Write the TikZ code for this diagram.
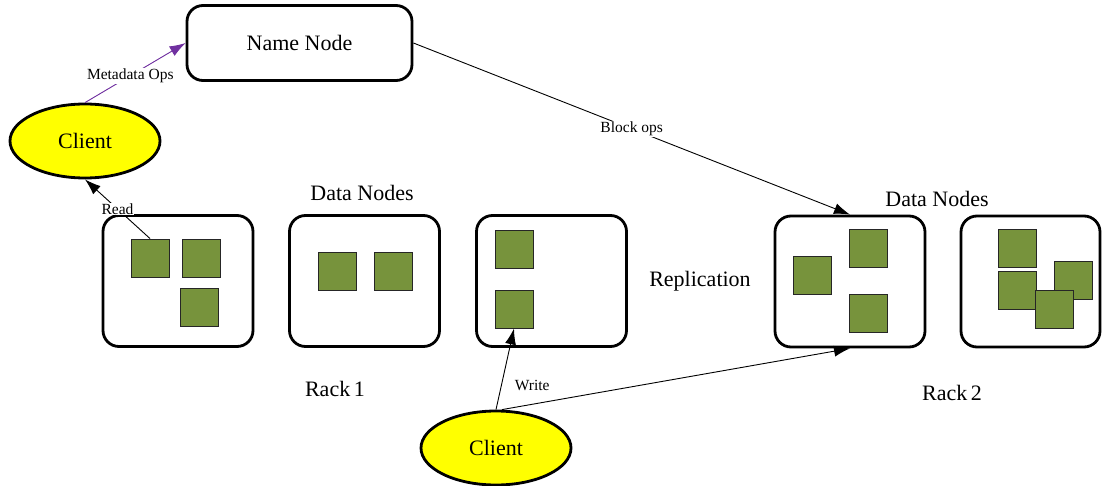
\documentclass[tikz,border=0pt]{standalone}
\usepackage{fontspec}
\setmainfont{Liberation Serif}
\usetikzlibrary{shapes.geometric,arrows.meta}
\definecolor{blockgreen}{HTML}{77933C}
\definecolor{metapurple}{HTML}{7030A0}
\definecolor{clientyellow}{HTML}{FFFF00}
\begin{document}
\begin{tikzpicture}[x=1pt,y=-1pt,
  bigtext/.style={font=\fontsize{22}{26}\selectfont, inner sep=0pt},
  smalltext/.style={font=\fontsize{15.5}{18}\selectfont, inner sep=1pt},
  rackbox/.style={draw, line width=2.8pt, rounded corners=16pt, minimum width=150pt, minimum height=131pt, inner sep=0pt},
  namebox/.style={draw, line width=2.8pt, rounded corners=16pt, minimum width=225pt, minimum height=75pt, inner sep=0pt, font=\fontsize{22}{26}\selectfont},
  clientnode/.style={draw, ellipse, line width=2.8pt, fill=clientyellow, minimum width=150pt, minimum height=74pt, inner sep=0pt, font=\fontsize{22}{26}\selectfont},
  blk/.style={draw=black!85, line width=0.9pt, fill=blockgreen, minimum size=38pt, inner sep=0pt},
  conn/.style={line width=0.9pt, -{Latex[length=16pt,width=11pt]}},
  lbl/.style={smalltext, fill=white}
]
\useasboundingbox (0,0) rectangle (1102,486);

% name node and clients
\node[namebox] (nn) at (299.5,43) {Name Node};
\node[clientnode] (c1) at (85,141) {Client};
\node[clientnode] (c2) at (496,448) {Client};

% rack 1 data nodes
\node[rackbox] (d1) at (178,281) {};
\node[rackbox] (d2) at (364.5,281) {};
\node[rackbox] (d3) at (551.5,281) {};
% rack 2 data nodes
\node[rackbox] (d4) at (850,281.5) {};
\node[rackbox, minimum width=139pt] (d5) at (1030.5,281.5) {};

% blocks
\node[blk] (b1a) at (150,258) {};
\node[blk] (b1b) at (201,258) {};
\node[blk] (b1c) at (199.5,307) {};
\node[blk] (b2a) at (337,271.5) {};
\node[blk] (b2b) at (393,271.5) {};
\node[blk] (b3a) at (514,249) {};
\node[blk] (b3b) at (514,309) {};
\node[blk] (b4a) at (812.5,275.5) {};
\node[blk] (b4b) at (868,248.5) {};
\node[blk] (b4c) at (868,313.5) {};
\node[blk] (b5a) at (1017.5,248.5) {};
\node[blk] (b5b) at (1017.5,290.5) {};
\node[blk] (b5c) at (1073.5,280.5) {};
\node[blk] (b5d) at (1054.5,309.5) {};

% texts
\node[bigtext] (t1) at (362,193) {Data Nodes};
\node[bigtext] (t2) at (937,199) {Data Nodes};
\node[bigtext] (t3) at (700,281) {Replication};
\node[bigtext] (t4) at (335,389) {Rack\,1};
\node[bigtext] (t5) at (952,393) {Rack\,2};

% connectors
\draw[conn, draw=metapurple, fill=metapurple] (c1.north) -- node[lbl, pos=0.45] {Metadata Ops} (nn.west);
\draw[conn] (nn.east) -- node[lbl] {Block ops} (d4.north);
\draw[conn] (b1a.north) -- node[lbl] {Read} (c1.south);
\draw[conn] (c2.north) -- node[smalltext, pos=0.3, right=12pt] {Write} (b3b.south);
\draw[conn] ([xshift=6pt]c2.north) -- (d4.south);
\end{tikzpicture}
\end{document}
